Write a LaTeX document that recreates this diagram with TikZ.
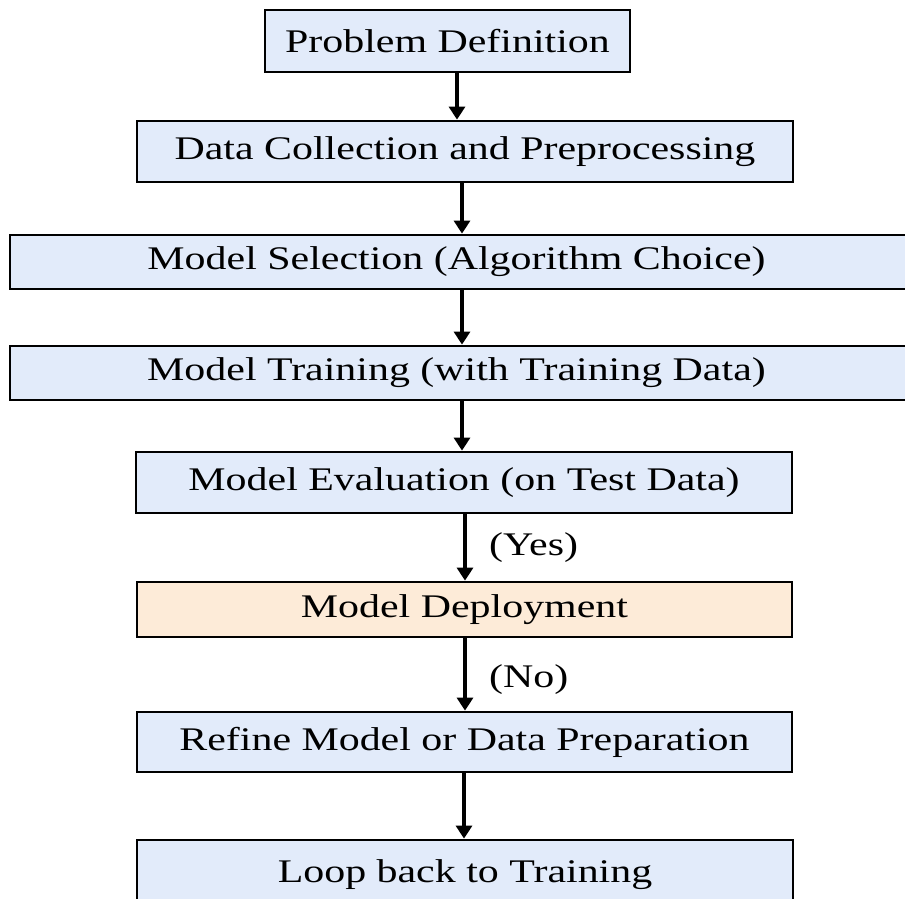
\documentclass[tikz,border=0pt]{standalone}
\usepackage{fontspec}
\setmainfont{Liberation Serif}[FakeStretch=1.27]
\usetikzlibrary{arrows.meta}
\definecolor{boxblue}{HTML}{E2EBFA}
\definecolor{boxpeach}{HTML}{FDEBD8}
\begin{document}
\begin{tikzpicture}[x=1pt,y=-1pt,
  flowbox/.style={draw=black, line width=2.8pt, fill=boxblue, rectangle, inner sep=0pt,
    font=\fontsize{33}{39}\selectfont, text=black},
  peachbox/.style={flowbox, fill=boxpeach},
  arr/.style={line width=4.5pt, -{Triangle[length=13pt,width=16pt]}},
  lbl/.style={font=\fontsize{33}{39}\selectfont, anchor=base west, inner sep=0pt}
]
\useasboundingbox (0,0) rectangle (905,899);
\fill[white] (0,0) rectangle (905,899);

\node[flowbox, minimum width=365pt, minimum height=62pt] (b1) at (447.5,41) {Problem Definition};
\node[flowbox, minimum width=656pt, minimum height=61pt] (b2) at (465,151.5) {Data Collection and Preprocessing};
\node[flowbox, minimum width=910pt, minimum height=54pt] (b3) at (465,262) {\hspace*{-17pt}Model Selection (Algorithm Choice)};
\node[flowbox, minimum width=910pt, minimum height=54pt] (b4) at (465,373) {\hspace*{-17pt}Model Training (with Training Data)};
\node[flowbox, minimum width=656pt, minimum height=61pt] (b5) at (464,482.5) {Model Evaluation (on Test Data)};
\node[peachbox, minimum width=655pt, minimum height=55pt] (b6) at (464.5,609.5) {Model Deployment};
\node[flowbox, minimum width=655pt, minimum height=60pt] (b7) at (464.5,742) {Refine Model or Data Preparation};
\node[flowbox, minimum width=656pt, minimum height=70pt] (b8) at (465,875) {\raisebox{3pt}{Loop back to Training}};

\coordinate (xa) at (457,0);
\coordinate (xb) at (462,0);
\coordinate (xc) at (465,0);
\coordinate (xd) at (464,0);

\draw[arr] (b1.south -| xa) -- (b2.north -| xa);
\draw[arr] (b2.south -| xb) -- (b3.north -| xb);
\draw[arr] (b3.south -| xb) -- (b4.north -| xb);
\draw[arr] (b4.south -| xb) -- (b5.north -| xb);
\draw[arr] (b5.south -| xc) -- (b6.north -| xc);
\draw[arr] (b6.south -| xc) -- (b7.north -| xc);
\draw[arr] (b7.south -| xd) -- (b8.north -| xd);

\node[lbl] (yes) at (489,555) {(Yes)};
\node[lbl] (no) at (489,687) {(No)};
\end{tikzpicture}
\end{document}
